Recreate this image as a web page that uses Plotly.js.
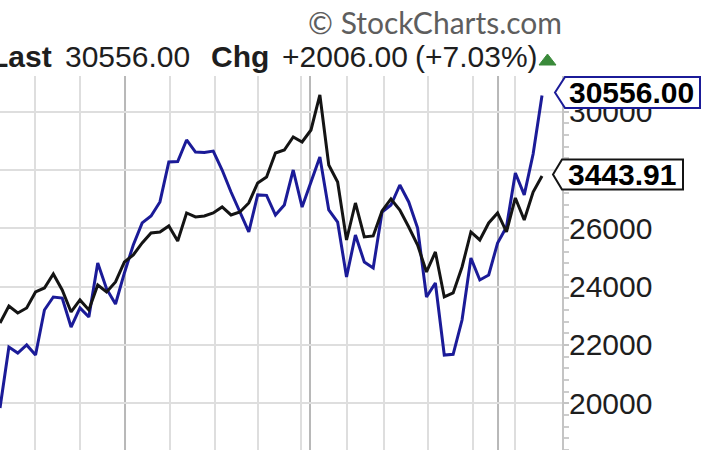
<!DOCTYPE html>
<html>
<head>
<meta charset="utf-8">
<script src="https://cdn.plot.ly/plotly-3.0.1.min.js"></script>
<style>
html,body{margin:0;padding:0;overflow:hidden;background:#fff;}
#chart{width:710px;height:480px;}
</style>
</head>
<body>
<div id="chart"></div>
<script>
// ---- data (weekly closes) ----
const dowClose = [19840, 21930, 21725, 22000, 21655, 23200, 23645, 23610, 22615, 23270,
                  22960, 24810, 23920, 23405, 24470, 25430, 26185, 26425, 26905, 28275,
                  28290, 29030, 28615, 28600, 28650, 28000, 27245, 26560, 25875, 27145,
                  27130, 26455, 26800, 28000, 26730, 27590, 28445, 26630, 26215, 24330,
                  25770, 24845, 24640, 26560, 26800, 27485, 26905, 26010, 23645, 24125,
                  21655, 21680, 22855, 24980, 24230, 24400, 25495, 26045, 27895, 27145,
                  28550, 30556];
const spxClose = [2856, 2924, 2896, 2916, 2980, 2996, 3052, 2988, 2900, 2948,
                  2908, 3008, 2980, 3020, 3100, 3128, 3176, 3216, 3220, 3244,
                  3184, 3296, 3280, 3284, 3296, 3320, 3288, 3300, 3336, 3416,
                  3440, 3536, 3548, 3600, 3580, 3628, 3768, 3488, 3420, 3188,
                  3336, 3200, 3204, 3304, 3352, 3308, 3240, 3168, 3060, 3140,
                  2960, 2976, 3080, 3220, 3188, 3256, 3296, 3220, 3356, 3268,
                  3380, 3443.91];
const yTickValues = [18000, 20000, 22000, 24000, 26000, 28000, 30000];
const yTickLabels = ['18000', '20000', '22000', '24000', '26000', '28000', '30000'];

// ---- layout constants ----
const W = 710, H = 480, MT = 76, MR = 148;
const PW = W - MR, PH = H - MT;
const xRange = [0, 63.25];
const yRange = [17370, 31223];
const y2Range = [2227.91, 3843.91];
const lightGrid = [3.94, 9.0, 19.13, 24.2, 29.04, 33.88, 39.05, 43.22, 48.17, 53.24, 57.96];
const darkGrid = [14.07, 34.89, 56.05];

const weekIdx = dowClose.map((_, i) => i);
const BLUE = '#1b1b98';
const BLACK = '#141414';
const FONT = 'Arial, "Liberation Sans", sans-serif';

const pxX = p => p / PW;
const pxY = p => (H - p) / PH;
const valToPx = (v, r) => MT + (r[1] - v) / (r[1] - r[0]) * PH;

const lastDow = dowClose[dowClose.length - 1];
const prevDow = dowClose[dowClose.length - 2];
const chg = lastDow - prevDow;
const pct = chg / prevDow * 100;
const lastSpx = spxClose[spxClose.length - 1];

function labelBox(cy, tip, left, right, half, color) {
  const t = cy - half, b = cy + half;
  return {
    type: 'path', xref: 'paper', yref: 'paper', layer: 'above',
    path: `M${pxX(tip)},${pxY(cy)} L${pxX(left)},${pxY(t)} L${pxX(right)},${pxY(t)} L${pxX(right)},${pxY(b)} L${pxX(left)},${pxY(b)} Z`,
    fillcolor: '#ffffff', line: {color: color, width: 2}
  };
}

const dowPx = valToPx(lastDow, yRange) - 3;
const spxPx = valToPx(lastSpx, y2Range) - 1.5;

const shapes = darkGrid.map(x => ({
  type: 'line', xref: 'x', yref: 'paper', x0: x, x1: x, y0: 0, y1: 1,
  layer: 'below', line: {color: '#b8b8b8', width: 2}
}));
shapes.push(labelBox(dowPx, 555, 565, 700, 15.5, BLUE));
shapes.push(labelBox(spxPx, 553, 562, 683, 15, BLACK));
// green up-marker after the change text
shapes.push({type: 'path', xref: 'paper', yref: 'paper', layer: 'above',
  path: `M${pxX(539)},${pxY(65)} L${pxX(556)},${pxY(65)} L${pxX(547.5)},${pxY(54)} Z`,
  fillcolor: '#3a8a3a', line: {color: '#3a8a3a', width: 1}});

const traces = [
  {x: weekIdx, y: spxClose, type: 'scatter', mode: 'lines', yaxis: 'y2',
   line: {color: BLACK, width: 3}, hoverinfo: 'skip'},
  {x: weekIdx, y: dowClose, type: 'scatter', mode: 'lines',
   line: {color: BLUE, width: 3}, hoverinfo: 'skip'}
];

function hdr(text, xp, anchor, bold) {
  return {xref: 'paper', yref: 'paper', x: pxX(xp), y: pxY(57), xanchor: anchor, yanchor: 'middle',
          showarrow: false, text: bold ? '<b>' + text + '</b>' : text,
          font: {family: FONT, size: 30, color: '#1e1e1e'}};
}

const layout = {
  width: W, height: H,
  margin: {l: 0, r: MR, t: MT, b: 0, pad: 0},
  paper_bgcolor: '#ffffff', plot_bgcolor: '#ffffff',
  showlegend: false,
  xaxis: {range: xRange, tickmode: 'array', tickvals: lightGrid, showticklabels: false,
          ticks: '', showgrid: true, gridcolor: '#dedede', gridwidth: 2,
          zeroline: false, showline: false, fixedrange: true},
  yaxis: {range: yRange, side: 'right', tickmode: 'array', tickvals: yTickValues, ticktext: yTickLabels,
          ticks: 'outside', ticklen: 5, tickwidth: 2, tickcolor: '#c4c4c4',
          ticklabelstandoff: -6,
          showgrid: true, gridcolor: '#dedede', gridwidth: 2, zeroline: false,
          showline: true, linecolor: '#c4c4c4', linewidth: 2,
          tickfont: {family: FONT, size: 30, color: '#1e1e1e'},
          minor: {dtick: 400, tick0: 0, ticks: 'outside', ticklen: 5, tickwidth: 2, tickcolor: '#cccccc', showgrid: false},
          fixedrange: true},
  yaxis2: {range: y2Range, overlaying: 'y', side: 'left', visible: false, fixedrange: true},
  shapes: shapes,
  annotations: [
    {xref: 'paper', yref: 'paper', x: pxX(306), y: pxY(22), xanchor: 'left', yanchor: 'middle',
     showarrow: false, text: '© StockCharts.com',
     font: {family: 'Lato, "Open Sans", sans-serif', size: 30, color: '#5e5e5e'}},
    hdr('Last', 54, 'right', true),
    hdr(lastDow.toFixed(2), 63, 'left', false),
    hdr('Chg', 209, 'left', true),
    hdr('+' + chg.toFixed(2), 280, 'left', false),
    hdr('(+' + pct.toFixed(2) + '%)', 540, 'right', false),
    {xref: 'paper', yref: 'paper', x: pxX(631), y: pxY(dowPx), xanchor: 'center', yanchor: 'middle',
     showarrow: false, text: '<b>' + lastDow.toFixed(2) + '</b>',
     font: {family: FONT, size: 30, color: '#000000'}},
    {xref: 'paper', yref: 'paper', x: pxX(622), y: pxY(spxPx), xanchor: 'center', yanchor: 'middle',
     showarrow: false, text: '<b>' + lastSpx.toFixed(2) + '</b>',
     font: {family: FONT, size: 30, color: '#000000'}}
  ]
};

Plotly.newPlot('chart', traces, layout, {displayModeBar: false, staticPlot: true});
</script>
</body>
</html>
